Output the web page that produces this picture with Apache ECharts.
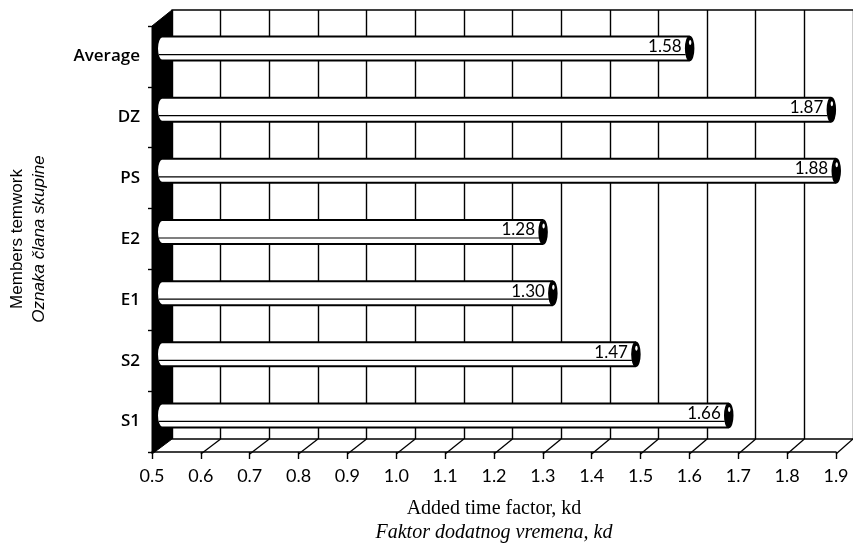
<!DOCTYPE html>
<html>
<head>
<meta charset="utf-8">
<script src="https://cdn.jsdelivr.net/npm/echarts@6/dist/echarts.min.js"></script>
<style>
html,body{margin:0;padding:0;background:#fff;}
#c{width:853px;height:548px;}
</style>
</head>
<body>
<div id="c"></div>
<script>
const categories = ['Average', 'DZ', 'PS', 'E2', 'E1', 'S2', 'S1'];
const values = [1.58, 1.87, 1.88, 1.28, 1.30, 1.47, 1.66];
const xMin = 0.5, xMax = 1.9, xStep = 0.1;
const xTickLabels = ['0.5','0.6','0.7','0.8','0.9','1.0','1.1','1.2','1.3','1.4','1.5','1.6','1.7','1.8','1.9'];
const xTitle = 'Added time factor, kd';
const xTitle2 = 'Faktor dodatnog vremena, kd';
const yTitle = 'Members temwork';
const yTitle2 = 'Oznaka člana skupine';

const SANS = 'Lato, "Open Sans", sans-serif';
const CAT = '"Open Sans", Lato, sans-serif';
const ARIAL = '"Liberation Sans", Arial, sans-serif';
const SERIF = '"Liberation Serif", "DejaVu Serif", serif';

// layout: front plane, mid-depth plane (bars), back wall plane
const front = {left: 152, top: 26, width: 684, height: 428};
const mid = {left: 162, top: 18, width: 684, height: 428};
const back = {left: 172, top: 10, width: 684, height: 429};

const chart = echarts.init(document.getElementById('c'), null, {renderer: 'canvas'});

function valAxis(grid, extra) {
  return Object.assign({
    type: 'value', gridIndex: grid, min: xMin, max: xMax, interval: xStep,
    axisLine: {show: false}, axisTick: {show: false}, axisLabel: {show: false},
    splitLine: {show: false}
  }, extra || {});
}
function catAxis(grid, extra) {
  return Object.assign({
    type: 'category', gridIndex: grid, data: categories, inverse: true,
    axisLine: {show: false}, axisTick: {show: false}, axisLabel: {show: false},
    splitLine: {show: false}
  }, extra || {});
}

const option = {
  backgroundColor: '#fff',
  animation: false,
  grid: [
    Object.assign({containLabel: false}, front),
    Object.assign({containLabel: false}, mid),
    Object.assign({containLabel: false}, back)
  ],
  xAxis: [
    valAxis(0, {
      position: 'bottom',
      axisLine: {show: true, lineStyle: {color: '#000', width: 1.5}},
      axisTick: {show: true, length: 7, lineStyle: {color: '#000', width: 1.4}},
      axisLabel: {
        show: true, color: '#000', fontFamily: SANS, fontSize: 18, margin: 15,
        formatter: function (v) {
          const i = Math.round((v - xMin) / xStep);
          return xTickLabels[i] !== undefined ? xTickLabels[i] : '';
        }
      },
      name: '{a|' + xTitle + '}\n{b|' + xTitle2 + '}',
      nameLocation: 'middle',
      nameGap: 45,
      nameTextStyle: {
        color: '#000',
        rich: {
          a: {fontFamily: SERIF, fontSize: 20, color: '#000', lineHeight: 24},
          b: {fontFamily: SERIF, fontSize: 20, fontStyle: 'italic', color: '#000', lineHeight: 24}
        }
      }
    }),
    valAxis(1),
    valAxis(2, {
      position: 'top',
      axisLine: {show: true, lineStyle: {color: '#000', width: 1.5}},
      splitLine: {show: true, lineStyle: {color: '#000', width: 1.4}}
    }),
    valAxis(2, {
      position: 'bottom',
      axisLine: {show: true, lineStyle: {color: '#000', width: 1.5}}
    })
  ],
  yAxis: [
    catAxis(0, {
      axisTick: {show: true, length: 4, lineStyle: {color: '#000', width: 1.4}},
      axisLabel: {show: true, color: '#000', fontFamily: CAT, fontSize: 17, fontWeight: 600, margin: 12},
      name: '{a|' + yTitle + '}\n{b|' + yTitle2 + '}',
      nameLocation: 'middle',
      nameGap: 102,
      nameRotate: 90,
      nameTextStyle: {
        color: '#000',
        rich: {
          a: {fontFamily: ARIAL, fontSize: 17, color: '#000', lineHeight: 22},
          b: {fontFamily: ARIAL, fontSize: 17, fontStyle: 'italic', color: '#000', lineHeight: 22}
        }
      }
    }),
    catAxis(1),
    catAxis(2)
  ],
  series: [{
    type: 'custom',
    xAxisIndex: 1,
    yAxisIndex: 1,
    z: 10,
    data: values.map(function (v, i) { return [v, i]; }),
    encode: {x: 0, y: 1},
    renderItem: function (params, api) {
      const v = api.value(0);
      const c = api.value(1);
      const s = api.coord([xMin, c]);
      const e = api.coord([v, c]);
      const h = 24;
      const y0 = s[1] - h / 2;
      const y1 = s[1] + h / 2;
      return {
        type: 'group',
        children: [
          {type: 'ellipse', shape: {cx: s[0], cy: s[1], rx: 5, ry: h / 2},
            style: {fill: '#fff', stroke: '#000', lineWidth: 2}},
          {type: 'rect', shape: {x: s[0], y: y0, width: e[0] - s[0], height: h},
            style: {fill: '#fff', stroke: null}},
          {type: 'line', shape: {x1: s[0], y1: y0, x2: e[0], y2: y0},
            style: {stroke: '#000', lineWidth: 2}},
          {type: 'line', shape: {x1: s[0], y1: y1, x2: e[0], y2: y1},
            style: {stroke: '#000', lineWidth: 2}},
          {type: 'line', shape: {x1: s[0] - 3, y1: y1 - 6, x2: e[0] - 4, y2: y1 - 6},
            style: {stroke: '#000', lineWidth: 1.2}},
          {type: 'ellipse', shape: {cx: e[0], cy: s[1], rx: 4, ry: h / 2},
            style: {fill: '#000', stroke: '#000', lineWidth: 1.5}},
          {type: 'ellipse', shape: {cx: e[0] + 0.5, cy: s[1] - 6, rx: 1.2, ry: 2.5},
            style: {fill: '#fff'}},
          {type: 'text', style: {
            x: e[0] - 8, y: s[1] + 6.5, text: v.toFixed(2), align: 'right', verticalAlign: 'bottom',
            fill: '#000', font: '17px ' + SANS
          }}
        ]
      };
    }
  }]
};
chart.setOption(option);

// decorative 3D wall and floor, derived from the axes
function drawDecor() {
  const fx = function (v) { return chart.convertToPixel({xAxisIndex: 0}, v); };
  const bx = function (v) { return chart.convertToPixel({xAxisIndex: 2}, v); };
  const fTop = front.top, fBot = front.top + front.height;
  const bTop = back.top, bBot = back.top + back.height;
  const els = [];
  els.push({
    type: 'polygon', z: 5,
    shape: {points: [[fx(xMin), fTop], [bx(xMin), bTop], [bx(xMin), bBot], [fx(xMin), fBot]]},
    style: {fill: '#000', stroke: '#000', lineWidth: 1}
  });
  const n = Math.round((xMax - xMin) / xStep);
  for (let i = 1; i <= n; i++) {
    const v = xMin + i * xStep;
    els.push({
      type: 'line', z: 5,
      shape: {x1: fx(v), y1: fBot, x2: bx(v), y2: bBot},
      style: {stroke: '#000', lineWidth: 1.3}
    });
  }
  chart.setOption({graphic: {elements: els}});
}
drawDecor();
</script>
</body>
</html>
